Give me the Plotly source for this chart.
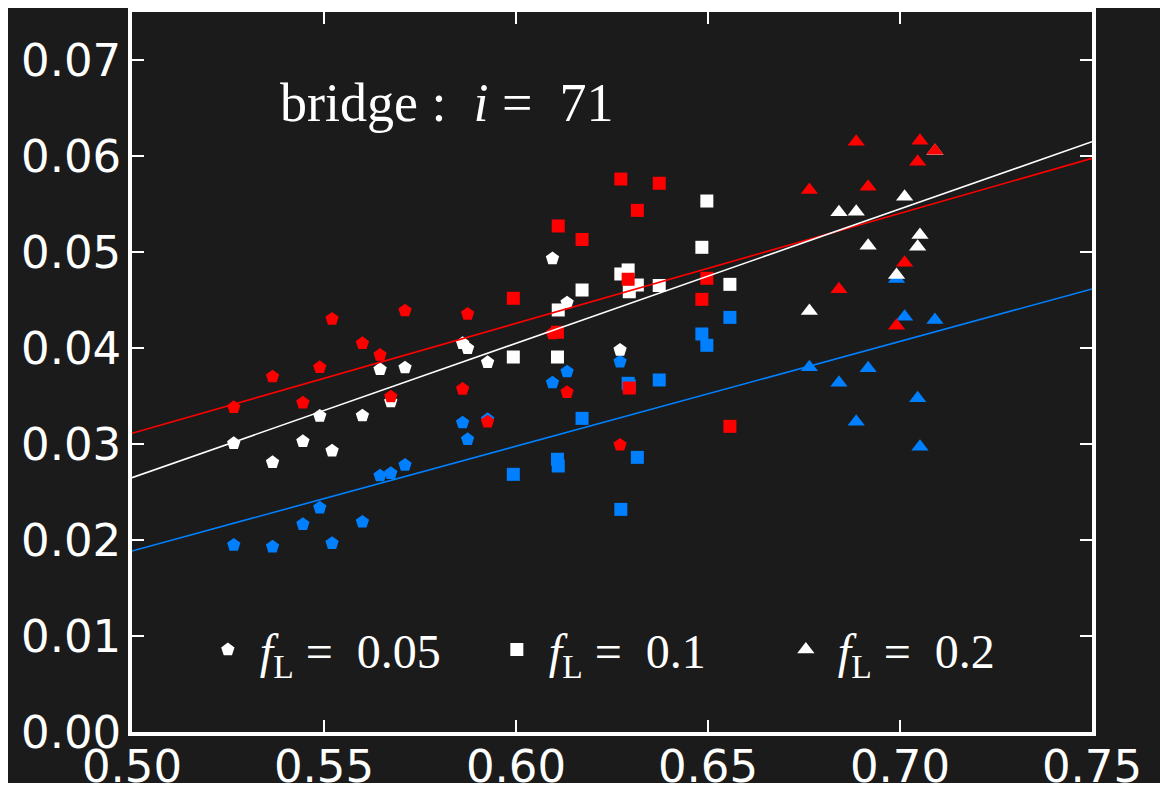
import numpy as np
import plotly.graph_objects as go

# ---- data ----
x_pent = [0.5265, 0.5366, 0.5445, 0.5489, 0.5521, 0.5600, 0.5646, 0.5674, 0.5711,
          0.5861, 0.5874, 0.5926, 0.6095, 0.6133, 0.6271]
red_pent = [0.03382, 0.03701, 0.03430, 0.03799, 0.04302, 0.04049, 0.03927, 0.03493, 0.04389,
            0.03573, 0.04354, 0.03232, 0.04151, 0.03539, 0.02990]
white_pent = [0.03007, 0.02809, 0.03028, 0.03292, 0.02930, 0.03295, 0.03778, 0.03441, 0.03795,
              0.04049, 0.03997, 0.03851, 0.04932, 0.04472, 0.03979]
blue_pent = [0.01948, 0.01930, 0.02164, 0.02336, 0.01966, 0.02188, 0.02670, 0.02695, 0.02781,
             0.03222, 0.03049, 0.03257, 0.03639, 0.03753, 0.03857]

x_sq = [0.5993, 0.6108, 0.6110, 0.6172, 0.6273, 0.6292, 0.6295, 0.6316, 0.6373, 0.6484, 0.6497, 0.6557]
red_sq = [0.04518, 0.04164, 0.05271, 0.05130, 0.05760, 0.04716, 0.03583, 0.05434, 0.05716,
          0.04507, 0.04726, 0.03184]
white_sq = [0.03906, 0.03906, 0.04396, 0.04604, 0.04771, 0.04813, 0.04586, 0.04656, 0.04651,
            0.05049, 0.05531, 0.04663]
blue_sq = [0.02684, 0.02841, 0.02771, 0.03267, 0.02319, 0.03632, 0.03604, 0.02861, 0.03667,
           0.04146, 0.04028, 0.04319]

x_tri = [0.6764, 0.6841, 0.6886, 0.6917, 0.6991, 0.7012, 0.7046, 0.7052, 0.7091]
red_tri = [0.05646, 0.04611, 0.06149, 0.05680, 0.04232, 0.04889, 0.05941, 0.06159, 0.06055]
white_tri = [0.04385, 0.05414, 0.05420, 0.05066, 0.04760, 0.05576, 0.05055, 0.05177, 0.06052]
blue_tri = [0.03799, 0.03639, 0.03232, 0.03789, 0.04719, 0.04326, 0.03476, 0.02972, 0.04292]

# fitted lines (values at x = 0.50 and x = 0.75)
fit_x = [0.50, 0.75]
fit_red = [0.03111, 0.05976]
fit_white = [0.02649, 0.06149]
fit_blue = [0.01885, 0.04615]

legend_labels = ["&nbsp;<i>f</i><sub>L</sub> =&nbsp;&nbsp;0.05",
                 "&nbsp;<i>f</i><sub>L</sub> =&nbsp;&nbsp;0.1",
                 "&nbsp;<i>f</i><sub>L</sub> =&nbsp;&nbsp;0.2"]
title_text = "bridge : &nbsp;<i>i</i> = &nbsp;71"

RED = "#ff0000"
WHITE = "#ffffff"
BLUE = "#0080ff"
BG = "#1b1b1b"

fig = go.Figure()

groups = [
    ("pentagon", x_pent, red_pent, white_pent, blue_pent, 14, legend_labels[0]),
    ("square", x_sq, red_sq, white_sq, blue_sq, 13, legend_labels[1]),
    ("triangle-up", x_tri, red_tri, white_tri, blue_tri, 15, legend_labels[2]),
]

for sym, xs, r, w, b, sz, lab in groups:
    for ys, col, show in [(b, BLUE, False), (w, WHITE, True), (r, RED, False)]:
        fig.add_trace(go.Scatter(
            x=xs, y=ys, mode="markers", name=lab, showlegend=show,
            marker=dict(symbol=sym, size=sz, color=col, line=dict(width=0)),
        ))

for ys, col in [(fit_red, RED), (fit_white, WHITE), (fit_blue, BLUE)]:
    fig.add_trace(go.Scatter(x=fit_x, y=ys, mode="lines", showlegend=False,
                             line=dict(color=col, width=1.6)))

axis_common = dict(
    showgrid=False, zeroline=False, showline=True, linecolor=WHITE, linewidth=3.5,
    mirror="ticks", ticks="inside", ticklen=12, tickwidth=1.5, tickcolor=WHITE,
    tickfont=dict(family="DejaVu Sans", size=45, color=WHITE), tickformat=".2f",
    automargin=False,
)

fig.update_layout(
    width=1152, height=775,
    paper_bgcolor=BG, plot_bgcolor=BG,
    margin=dict(l=124, r=68, t=4, b=51),
    xaxis=dict(range=[0.50, 0.75], dtick=0.05, tick0=0.5, ticklabelstandoff=-8, **axis_common),
    yaxis=dict(range=[0.0, 0.075], dtick=0.01, tick0=0.0, ticklabelstandoff=-2, **axis_common),
    legend=dict(orientation="h", x=0.079, y=0.114, xanchor="left", yanchor="middle",
                bgcolor="rgba(0,0,0,0)", entrywidth=244, entrywidthmode="pixels",
                font=dict(family="Liberation Serif", size=48, color=WHITE),
                itemsizing="trace"),
    annotations=[dict(text=title_text, xref="paper", yref="paper", x=0.152, y=0.874,
                      xanchor="left", yanchor="middle", showarrow=False,
                      font=dict(family="Liberation Serif", size=54, color=WHITE))],
)

fig.write_html("out.html")
